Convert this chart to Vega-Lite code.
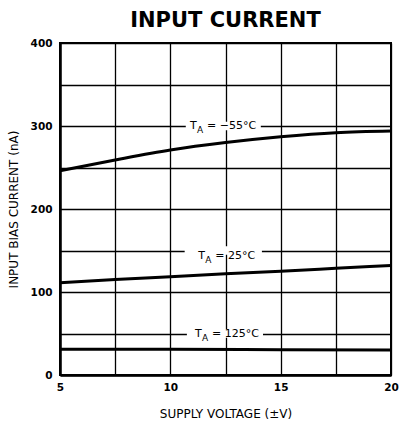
{
  "$schema": "https://vega.github.io/schema/vega-lite/v6.json",
  "autosize": "none",
  "width": 331,
  "height": 332,
  "padding": {"left": 60, "top": 43, "right": 11, "bottom": 46},
  "background": "white",
  "title": {"text": "INPUT CURRENT", "font": "DejaVu Sans", "fontSize": 21, "fontWeight": "bold", "color": "black", "anchor": "middle", "frame": "group", "offset": 7},
  "config": {
    "view": {"stroke": "black", "strokeWidth": 2},
    "axis": {
      "grid": true, "gridColor": "black", "gridWidth": 1.3, "gridOpacity": 1,
      "domain": true, "domainColor": "black", "domainWidth": 2.5,
      "ticks": false,
      "labelFont": "DejaVu Sans", "labelFontWeight": "bold", "labelFontSize": 10.5, "labelColor": "black",
      "titleFont": "DejaVu Sans", "titleFontWeight": "normal", "titleFontSize": 12, "titleColor": "black"
    }
  },
  "datasets": {
    "curves": [
      {"v": 5, "i": 246, "t": "-55"}, {"v": 7.5, "i": 259, "t": "-55"}, {"v": 10, "i": 271, "t": "-55"}, {"v": 12.5, "i": 280, "t": "-55"}, {"v": 15, "i": 287, "t": "-55"}, {"v": 17.5, "i": 292, "t": "-55"}, {"v": 20, "i": 294, "t": "-55"},
      {"v": 5, "i": 111, "t": "25"}, {"v": 7.5, "i": 115, "t": "25"}, {"v": 10, "i": 118.5, "t": "25"}, {"v": 12.5, "i": 122, "t": "25"}, {"v": 15, "i": 125, "t": "25"}, {"v": 17.5, "i": 128.5, "t": "25"}, {"v": 20, "i": 132, "t": "25"},
      {"v": 5, "i": 31, "t": "125"}, {"v": 10, "i": 31, "t": "125"}, {"v": 15, "i": 30.5, "t": "125"}, {"v": 20, "i": 30, "t": "125"}
    ],
    "labels": [
      {"x": 10.89, "y": 300, "rest": "= −55°C", "bx1": 10.7, "bx2": 14.1, "by1": 295, "by2": 305},
      {"x": 11.27, "y": 143, "rest": "= 25°C", "bx1": 10.65, "bx2": 14.15, "by1": 145, "by2": 155},
      {"x": 11.12, "y": 50, "rest": "= 125°C", "bx1": 10.75, "bx2": 14.2, "by1": 45, "by2": 55}
    ]
  },
  "layer": [
    {
      "data": {"name": "curves"},
      "mark": {"type": "line", "color": "black", "strokeWidth": 3, "interpolate": "monotone"},
      "encoding": {
        "x": {"field": "v", "type": "quantitative", "scale": {"domain": [5, 20], "nice": false},
          "axis": {"values": [5, 7.5, 10, 12.5, 15, 17.5, 20], "labelExpr": "datum.value % 5 == 0 ? datum.label : ''", "labelPadding": 7, "title": "SUPPLY VOLTAGE (±V)", "titlePadding": 16, "labelFlush": false}},
        "y": {"field": "i", "type": "quantitative", "scale": {"domain": [0, 400], "nice": false},
          "axis": {"values": [0, 50, 100, 150, 200, 250, 300, 350, 400], "labelExpr": "datum.value % 100 == 0 ? datum.label : ''", "labelPadding": 8, "title": "INPUT BIAS CURRENT (nA)", "titlePadding": 10}},
        "detail": {"field": "t"}
      }
    },
    {
      "data": {"name": "labels"},
      "mark": {"type": "rect", "color": "white"},
      "encoding": {
        "x": {"field": "bx1", "type": "quantitative"},
        "x2": {"field": "bx2"},
        "y": {"field": "by1", "type": "quantitative"},
        "y2": {"field": "by2"}
      }
    },
    {
      "data": {"name": "labels"},
      "mark": {"type": "text", "text": "T", "font": "DejaVu Sans", "fontSize": 11, "align": "left", "baseline": "middle", "color": "black"},
      "encoding": {"x": {"field": "x", "type": "quantitative"}, "y": {"field": "y", "type": "quantitative"}}
    },
    {
      "data": {"name": "labels"},
      "mark": {"type": "text", "text": "A", "font": "DejaVu Sans", "fontSize": 9, "align": "left", "baseline": "middle", "dx": 7, "dy": 4, "color": "black"},
      "encoding": {"x": {"field": "x", "type": "quantitative"}, "y": {"field": "y", "type": "quantitative"}}
    },
    {
      "data": {"name": "labels"},
      "mark": {"type": "text", "font": "DejaVu Sans", "fontSize": 11, "align": "left", "baseline": "middle", "dx": 17, "color": "black"},
      "encoding": {"x": {"field": "x", "type": "quantitative"}, "y": {"field": "y", "type": "quantitative"}, "text": {"field": "rest"}}
    }
  ]
}
